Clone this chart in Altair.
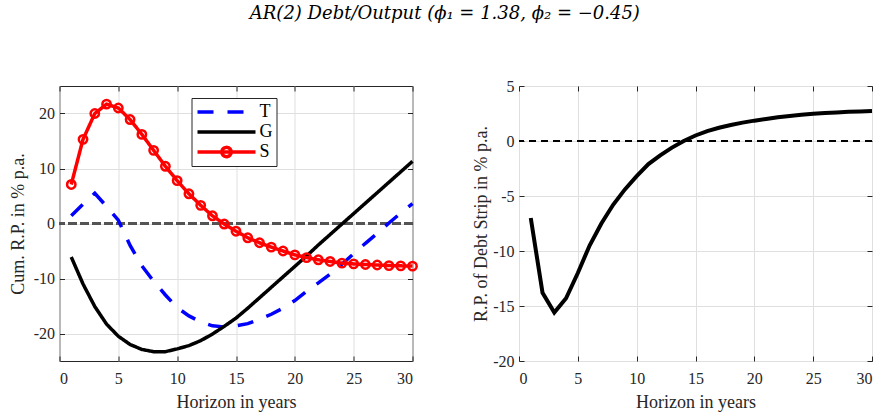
import altair as alt
import pandas as pd

# ---------------- data ----------------
horizon = list(range(1, 31))
t_vals = [1.4, 3.5, 5.5, 3.1, 0.6, -4.0, -7.7, -10.5, -13.0, -15.3,
          -16.8, -17.9, -18.6, -18.8, -18.6, -18.2, -17.4, -16.5, -15.4, -14.0,
          -12.3, -10.8, -9.2, -7.4, -5.5, -3.6, -1.8, 0.1, 1.9, 3.6]
g_vals = [-6.1, -11.0, -15.1, -18.3, -20.5, -22.0, -22.9, -23.3, -23.3, -22.8,
          -22.2, -21.3, -20.1, -18.7, -17.2, -15.4, -13.5, -11.6, -9.7, -7.8,
          -5.9, -3.9, -2.0, -0.1, 1.8, 3.7, 5.6, 7.5, 9.4, 11.3]
s_vals = [7.1, 15.3, 20.0, 21.7, 21.0, 18.9, 16.2, 13.3, 10.4, 7.8,
          5.4, 3.3, 1.4, -0.1, -1.4, -2.6, -3.5, -4.3, -5.0, -5.7,
          -6.2, -6.6, -6.9, -7.2, -7.35, -7.45, -7.55, -7.65, -7.7, -7.75]
strip_vals = [-7.0, -13.8, -15.6, -14.3, -12.0, -9.5, -7.5, -5.8, -4.4, -3.2,
              -2.1, -1.3, -0.6, 0.0, 0.5, 0.9, 1.2, 1.45, 1.67, 1.85,
              2.0, 2.15, 2.28, 2.38, 2.47, 2.54, 2.6, 2.65, 2.69, 2.72]
series_names = ["T", "G", "S"]
series_colors = ["#0000ff", "#000000", "#ff0000"]
x_ticks = [0, 5, 10, 15, 20, 25, 30]
left_ticks = [-20, -10, 0, 10, 20]
right_ticks = [-20, -15, -10, -5, 0, 5]

long_df = pd.DataFrame({
    "h": horizon * 3,
    "v": t_vals + g_vals + s_vals,
    "series": ["T"] * 30 + ["G"] * 30 + ["S"] * 30,
})
s_df = pd.DataFrame({"h": horizon, "v": s_vals})
strip_df = pd.DataFrame({"h": horizon, "v": strip_vals})

FONT = "Liberation Serif"
TXT = "#262626"
GRID = "#dfdfdf"
W, H = 353, 275
HYPHEN = "replace(datum.label, '\u2212', '-')"

x_scale = alt.Scale(domain=[0, 30], nice=False, zero=False)
yl_scale = alt.Scale(domain=[-25, 25], nice=False, zero=False)
yr_scale = alt.Scale(domain=[-20, 5], nice=False, zero=False)


def main_x_axis():
    return alt.Axis(values=x_ticks, title="Horizon in years", orient="bottom",
                    grid=True, gridColor=GRID, domain=False, offset=-5,
                    tickSize=5, tickColor=TXT, labelPadding=9.5, titlePadding=7,
                    minExtent=0)


def main_y_axis(ticks, title, tpad):
    return alt.Axis(values=ticks, title=title, orient="left", grid=True,
                    gridColor=GRID, domain=False, offset=-5, tickSize=5,
                    tickColor=TXT, labelPadding=5, titlePadding=tpad,
                    labelExpr=HYPHEN, minExtent=0)


def mirror_x_axis():
    return alt.Axis(values=x_ticks, orient="top", title=None, labels=False,
                    grid=False, domain=False, offset=-5, tickSize=5, tickColor=TXT,
                    minExtent=0, maxExtent=0)


def mirror_y_axis(ticks):
    return alt.Axis(values=ticks, orient="right", title=None, labels=False,
                    grid=False, domain=False, offset=-5, tickSize=5, tickColor=TXT,
                    minExtent=0, maxExtent=0)


s_path = ("M-1,0L1,0M0.16,0A0.16,0.16,0,1,1,-0.16,0"
          "A0.16,0.16,0,1,1,0.16,0")

legend = alt.Legend(
    title=None, orient="none", legendX=132, legendY=12, direction="vertical",
    fillColor="white", strokeColor=TXT, padding=4,
    symbolType=alt.ExprRef(expr="datum.value === 'S' ? '" + s_path + "' : 'stroke'"),
    symbolSize=3364, symbolStrokeWidth=3.5, clipHeight=20, rowPadding=0,
    labelFont=FONT, labelFontSize=18, labelColor="black", labelOffset=2,
)

zero_left = alt.Chart(long_df).mark_rule(
    color="#555555", strokeDash=[8, 4], strokeWidth=1.3
).encode(y=alt.YDatum(0, scale=yl_scale, axis=None))

mirror_left = alt.Chart(long_df).mark_line(opacity=0).encode(
    x=alt.X("h:Q", scale=x_scale, axis=mirror_x_axis()),
    y=alt.Y("v:Q", scale=yl_scale, axis=mirror_y_axis(left_ticks)),
)

lines_left = alt.Chart(long_df).mark_line(strokeWidth=3.5).encode(
    x=alt.X("h:Q", scale=x_scale, axis=main_x_axis()),
    y=alt.Y("v:Q", scale=yl_scale,
            axis=main_y_axis(left_ticks, "Cum. R.P. in % p.a.", 5.5)),
    color=alt.Color("series:N", scale=alt.Scale(domain=series_names,
                                                range=series_colors),
                    legend=legend),
    strokeDash=alt.StrokeDash("series:N", scale=alt.Scale(
        domain=series_names, range=[[16, 14], [1, 0], [1, 0]]), legend=legend),
    detail="series:N",
)

points_left = alt.Chart(s_df).mark_point(
    shape="circle", filled=False, color="#ff0000", size=70, strokeWidth=2.5,
    opacity=1
).encode(
    x=alt.X("h:Q", scale=x_scale, axis=None),
    y=alt.Y("v:Q", scale=yl_scale, axis=None),
)

left = alt.layer(zero_left, mirror_left, lines_left, points_left).resolve_axis(
    x="independent", y="independent"
).properties(width=W, height=H)

zero_right = alt.Chart(strip_df).mark_rule(
    color="#000000", strokeDash=[7, 5], strokeWidth=1.5
).encode(y=alt.YDatum(0, scale=yr_scale, axis=None))

mirror_right = alt.Chart(strip_df).mark_line(opacity=0).encode(
    x=alt.X("h:Q", scale=x_scale, axis=mirror_x_axis()),
    y=alt.Y("v:Q", scale=yr_scale, axis=mirror_y_axis(right_ticks)),
)

line_right = alt.Chart(strip_df).mark_line(color="#000000", strokeWidth=4).encode(
    x=alt.X("h:Q", scale=x_scale, axis=main_x_axis()),
    y=alt.Y("v:Q", scale=yr_scale,
            axis=main_y_axis(right_ticks, "R.P. of Debt Strip in % p.a.", 2.5)),
)

right = alt.layer(zero_right, mirror_right, line_right).resolve_axis(
    x="independent", y="independent"
).properties(width=W, height=H)

chart = alt.hconcat(left, right, spacing=48.5).properties(
    title=alt.TitleParams(
        text="AR(2) Debt/Output (\u03d5\u2081 = 1.38, \u03d5\u2082 = \u22120.45)",
        font="DejaVu Serif", fontStyle="italic", fontSize=18,
        fontWeight="normal", color="black", anchor="middle", offset=55),
    padding={"left": 8.5, "top": 4, "right": 0, "bottom": 0},
).configure_view(stroke=TXT, strokeWidth=1).configure_axis(
    labelFont=FONT, labelFontSize=16, labelColor=TXT,
    titleFont=FONT, titleFontSize=18, titleColor=TXT, titleFontWeight="normal",
    gridWidth=1,
)

chart.save("out.html", embed_options={"renderer": "svg", "actions": False})
